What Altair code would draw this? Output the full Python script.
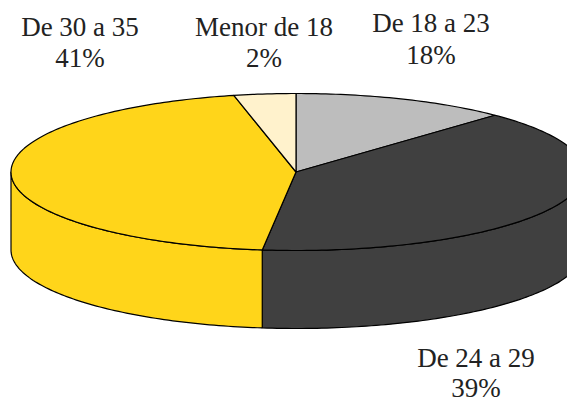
import math
import altair as alt
import pandas as pd

slices = ["De 18 a 23", "De 24 a 29", "De 30 a 35", "Menor de 18"]
printed = ["18%", "39%", "41%", "2%"]
# angular shares as they are drawn in the picture (degrees, clockwise from the top)
drawn_deg = [43.7, 143.1, 160.6, 12.6]
colors = ["#BDBDBD", "#404040", "#FFD51A", "#FFF2CC"]
label_x = [431, 476, 80, 264]
label_y1 = [32, 367, 36, 36]
label_y2 = [64, 397, 67, 67]

CX, CY, RX_LEFT, RX_RIGHT, RY, DEPTH = 296, 172, 285, 288, 78.5, 78


def ell(t, dy=0.0):
    a = math.radians(t)
    s = math.sin(a)
    return CX + (RX_RIGHT if s > 0 else RX_LEFT) * s, CY + dy - RY * math.cos(a)


def arc(t0, t1, dy=0.0):
    n = max(2, int(abs(t1 - t0)) + 1)
    return [ell(t0 + (t1 - t0) * k / n, dy) for k in range(n + 1)]


top, side = [], []
start = 0.0
for name, span in zip(slices, drawn_deg):
    end = start + span
    pts = [(CX, CY)] + arc(start, end) + [(CX, CY)]
    top += [{"slice": name, "x": p[0], "y": p[1], "i": i} for i, p in enumerate(pts)]
    lo, hi = max(start, 90), min(end, 270)
    if hi > lo:
        ring = arc(lo, hi, DEPTH) + arc(hi, lo)
        ring.append(ring[0])
        side += [{"slice": name, "x": p[0], "y": p[1], "i": i} for i, p in enumerate(ring)]
    start = end

x_scale = alt.Scale(domain=[8, 567], nice=False, zero=False)
y_scale = alt.Scale(domain=[400, 8], nice=False, zero=False)
fill = alt.Fill("slice:N", scale=alt.Scale(domain=slices, range=colors), legend=None)


def faces(rows):
    return alt.Chart(pd.DataFrame(rows)).mark_line(
        stroke="black", strokeWidth=1.2, clip=True, strokeJoin="round"
    ).encode(
        x=alt.X("x:Q", scale=x_scale, axis=None),
        y=alt.Y("y:Q", scale=y_scale, axis=None),
        fill=fill,
        order="i:Q",
    )


labels = pd.DataFrame(
    [{"t": s, "x": x, "y": y} for s, x, y in zip(slices, label_x, label_y1)]
    + [{"t": s, "x": x, "y": y} for s, x, y in zip(printed, label_x, label_y2)]
)
text = alt.Chart(labels).mark_text(
    font="Liberation Serif", fontSize=27, color="#222222", baseline="alphabetic", align="center"
).encode(
    x=alt.X("x:Q", scale=x_scale, axis=None),
    y=alt.Y("y:Q", scale=y_scale, axis=None),
    text="t:N",
)

chart = alt.layer(faces(side), faces(top), text).properties(
    width=559, height=392, padding=0, autosize=alt.AutoSizeParams(type="none")
).configure_view(stroke=None)

chart.save("out.html", embed_options={"renderer": "svg", "actions": False})
